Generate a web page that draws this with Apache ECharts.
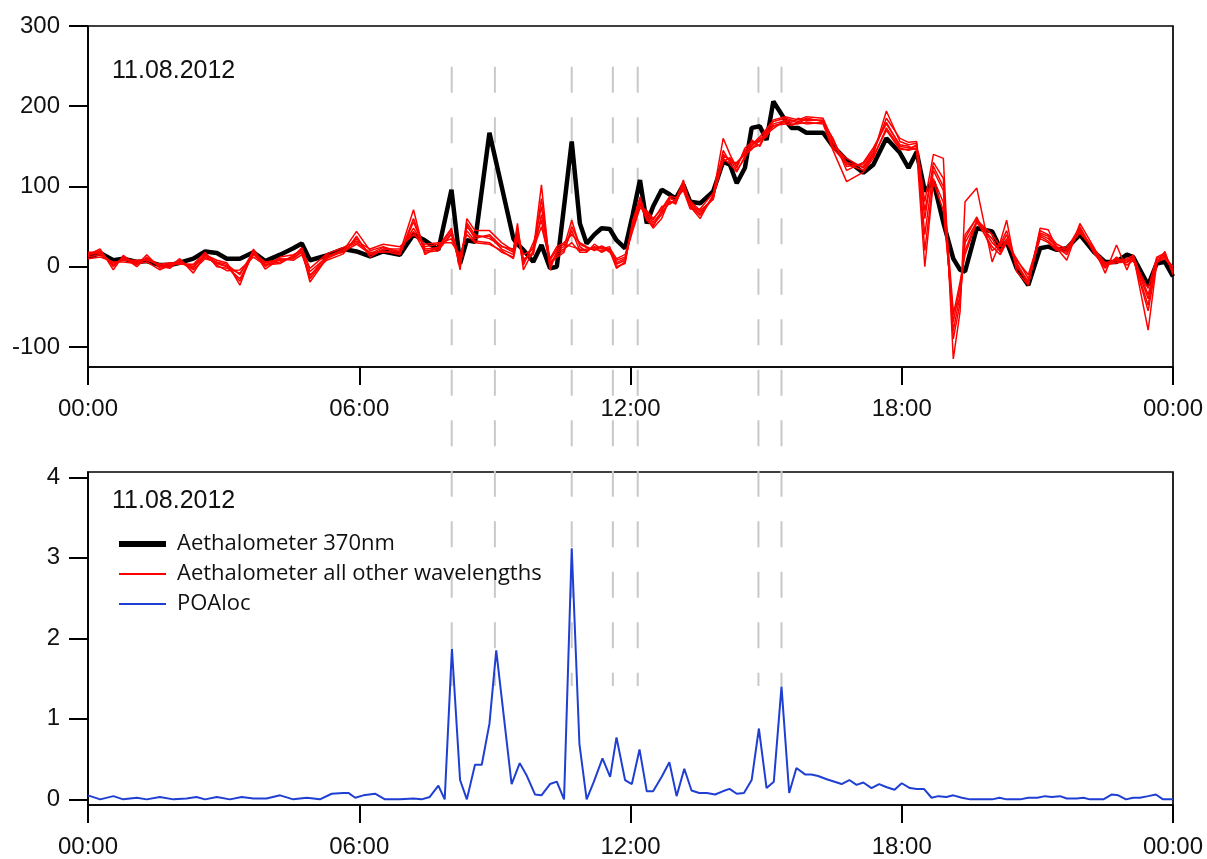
<!DOCTYPE html>
<html>
<head>
<meta charset="utf-8">
<title>Aethalometer and POAloc, 11.08.2012</title>
<script src="https://cdn.jsdelivr.net/npm/echarts@6/dist/echarts.min.js"></script>
<style>
  html, body { margin: 0; padding: 0; background: #fff; }
  #chart { width: 1207px; height: 859px; }
</style>
</head>
<body>
<div id="chart"></div>
<script>
// time of day in hours, shared by all aethalometer channels
var aethHours = [0.00,0.27,0.56,0.78,1.08,1.30,1.59,1.81,2.03,2.33,
  2.59,2.85,3.07,3.36,3.66,3.92,4.25,4.54,4.73,4.91,
  5.28,5.65,5.94,6.24,6.53,6.90,7.20,7.45,7.75,8.04,
  8.23,8.38,8.56,8.88,9.15,9.41,9.50,9.63,9.85,10.03,
  10.22,10.37,10.53,10.70,10.88,11.03,11.20,11.36,11.54,11.69,
  11.88,12.05,12.21,12.36,12.50,12.69,12.87,13.00,13.17,13.32,
  13.54,13.83,14.05,14.20,14.35,14.53,14.68,14.86,15.01,15.16,
  15.42,15.56,15.71,15.89,16.26,16.48,16.78,17.15,17.37,17.66,
  17.96,18.15,18.33,18.51,18.70,18.92,19.14,19.29,19.40,19.66,
  20.00,20.18,20.32,20.54,20.80,21.06,21.24,21.43,21.65,21.94,
  22.24,22.50,22.75,22.98,23.12,23.45,23.64,23.82,24.00];

// Aethalometer 370nm
var aeth370 = [12,17,8,10,6,7,2,2,5,10,
  19,17,10,10,18,7,15,23,29,8,
  14,22,19,13,19,15,40,33,21,96,
  4,33,31,167,100,35,28,21,6,27,
  -2,0,75,156,54,29,40,48,47,33,
  23,65,108,54,75,96,90,85,102,81,
  79,94,131,127,104,123,173,175,158,206,
  183,173,173,167,167,150,133,117,127,160,
  142,123,143,94,106,55,10,-4,-6,48,
  44,23,31,-2,-23,23,25,21,23,40,
  19,6,6,15,12,-23,4,6,-12];

// the other six wavelengths
var aeth470 = [15,22,-4,14,2,15,-2,0,10,-8,
  15,8,5,-23,22,0,12,15,20,-19,
  10,20,44,20,25,18,71,15,25,48,
  -4,60,45,45,30,20,54,-4,20,102,
  -4,20,25,58,25,19,25,23,20,-2,
  6,55,87,60,48,60,85,83,108,75,
  60,90,160,140,123,148,155,156,170,181,
  185,183,181,185,181,150,135,123,140,194,
  156,152,154,81,140,135,-115,-56,81,98,
  6,31,58,-6,-23,48,46,23,8,54,
  25,-8,27,-4,15,-79,4,19,-10];
var aeth520 = [18,18,2,10,5,10,0,3,6,0,
  12,4,0,-15,18,5,8,10,18,-12,
  14,18,35,15,20,15,56,20,22,40,
  5,50,38,38,22,15,45,5,25,75,
  5,15,20,45,20,22,22,20,22,5,
  10,50,80,65,55,68,80,80,100,80,
  68,85,140,132,128,142,150,160,165,178,
  182,180,185,182,183,158,125,128,145,180,
  150,148,150,60,130,110,-90,-45,40,60,
  30,20,35,5,-20,40,35,25,20,46,
  20,0,10,5,10,-48,10,15,-5];
var aeth590 = [12,15,5,8,8,8,3,5,3,3,
  18,0,-2,-8,15,3,6,12,24,-6,
  12,22,30,18,18,20,48,25,28,35,
  10,45,32,30,18,12,38,10,15,65,
  10,25,30,40,30,25,20,25,18,8,
  12,45,73,70,60,72,88,86,95,72,
  72,92,135,128,118,138,148,152,168,175,
  180,178,178,180,178,145,106,118,135,173,
  148,145,148,40,120,95,-80,-35,30,56,
  25,15,30,10,-15,35,30,20,25,42,
  22,5,8,8,12,-40,8,12,0];
var aeth660 = [14,20,0,12,0,12,1,-2,8,-4,
  10,6,3,-10,20,-3,10,8,15,-10,
  8,16,38,12,22,22,44,18,20,42,
  0,55,40,35,26,18,42,2,30,58,
  0,18,22,30,18,18,28,22,25,0,
  4,58,84,62,52,65,82,78,104,78,
  65,88,131,136,125,145,152,162,172,183,
  187,185,183,187,185,155,130,125,142,185,
  160,155,156,20,110,80,-69,-25,20,58,
  40,25,40,0,-18,45,40,28,22,50,
  18,-2,12,2,8,-27,12,17,-8];
var aeth880 = [10,12,6,6,4,6,-4,2,4,2,
  14,2,-5,-4,12,2,4,14,22,-2,
  16,24,32,22,28,25,40,28,30,30,
  15,40,30,28,20,10,35,15,22,50,
  8,22,28,25,22,20,24,18,23,10,
  15,48,76,68,58,75,78,84,98,82,
  70,84,145,130,130,140,146,158,162,176,
  178,176,180,178,180,160,120,130,148,178,
  152,150,145,0,106,70,-60,-19,15,55,
  35,18,32,8,-10,38,32,22,18,44,
  24,3,6,10,14,-35,6,10,-3];
var aeth950 = [16,16,3,10,6,9,2,4,5,-2,
  16,5,1,-18,17,6,9,11,19,-15,
  11,19,28,16,24,16,60,22,24,45,
  8,52,35,40,25,22,48,8,18,85,
  3,12,18,50,28,24,21,26,21,3,
  8,52,78,58,50,70,86,81,102,76,
  64,86,138,134,120,135,158,150,166,172,
  183,182,179,184,182,148,128,120,138,170,
  146,146,152,70,125,100,-56,-40,35,62,
  20,28,45,3,-22,42,38,24,15,48,
  21,2,5,6,11,-55,5,14,-6];

// POAloc
var poaHours = [0.00,0.27,0.56,0.78,1.08,1.30,1.59,1.89,2.18,2.40,
  2.59,2.85,3.14,3.40,3.66,3.95,4.25,4.54,4.84,5.13,
  5.39,5.65,5.76,5.91,6.09,6.35,6.57,6.90,7.20,7.38,
  7.56,7.75,7.89,8.05,8.23,8.38,8.56,8.71,8.88,9.03,
  9.37,9.55,9.70,9.89,10.03,10.22,10.37,10.53,10.70,10.87,
  11.03,11.19,11.38,11.55,11.69,11.88,12.03,12.20,12.36,12.50,
  12.69,12.86,13.02,13.19,13.35,13.52,13.69,13.87,14.04,14.19,
  14.35,14.51,14.68,14.84,15.01,15.17,15.34,15.51,15.67,15.86,
  16.00,16.15,16.34,16.67,16.84,17.00,17.15,17.33,17.50,17.67,
  17.84,18.00,18.18,18.33,18.49,18.66,18.81,18.99,19.14,19.33,
  19.51,19.81,20.00,20.16,20.32,20.62,20.80,21.00,21.17,21.32,
  21.50,21.65,21.87,22.02,22.16,22.46,22.64,22.79,22.96,23.12,
  23.27,23.45,23.62,23.78,24.00];
var poaValues = [0.05,0.00,0.04,0.00,0.02,0.00,0.03,0.00,0.01,0.03,
  0.00,0.03,0.00,0.03,0.01,0.01,0.05,0.00,0.02,0.00,
  0.07,0.08,0.08,0.02,0.05,0.07,0.00,0.00,0.01,0.00,
  0.03,0.17,0.00,1.87,0.24,0.00,0.43,0.43,0.94,1.85,
  0.19,0.45,0.30,0.06,0.05,0.19,0.22,0.00,3.12,0.69,
  0.00,0.22,0.51,0.28,0.77,0.24,0.19,0.62,0.10,0.10,
  0.28,0.46,0.04,0.38,0.11,0.08,0.08,0.06,0.10,0.13,
  0.07,0.08,0.24,0.88,0.14,0.22,1.40,0.08,0.39,0.31,
  0.31,0.29,0.25,0.19,0.24,0.18,0.21,0.14,0.19,0.15,
  0.12,0.20,0.14,0.13,0.13,0.02,0.04,0.03,0.05,0.02,
  0.00,0.00,0.00,0.02,0.00,0.00,0.02,0.02,0.04,0.03,
  0.04,0.01,0.01,0.02,0.00,0.00,0.06,0.05,0.00,0.02,
  0.02,0.04,0.06,0.00,0.00];

// marked events (grey dashed lines)
var eventHours = [8.045, 9.00, 10.70, 11.61, 12.16, 14.83, 15.34];

var xTicks = [0, 6, 12, 18, 24];
var dateLabel = '11.08.2012';

var NAME_370 = 'Aethalometer 370nm';
var NAME_OTHER = 'Aethalometer all other wavelengths';
var NAME_POA = 'POAloc';

function pairs(xs, ys) {
  return xs.map(function (x, i) { return [x, ys[i]]; });
}

function hhmm(v) {
  var h = v % 24;
  return (h < 10 ? '0' : '') + h + ':00';
}

var chart = echarts.init(document.getElementById('chart'));

var axisFont = { fontFamily: 'Liberation Sans', fontSize: 24, color: '#111' };
var blackLine = { color: '#000', width: 1.7 };

function timeAxis(grid, visible) {
  return {
    type: 'value', gridIndex: grid, min: xTicks[0], max: xTicks[xTicks.length - 1], interval: 6,
    show: visible,
    axisLine: { show: true, onZero: false, lineStyle: blackLine },
    axisTick: { show: true, length: 18, lineStyle: { color: '#000', width: 2 } },
    axisLabel: Object.assign({ margin: 30, formatter: hhmm }, axisFont),
    splitLine: { show: false }
  };
}

// data axes only draw the line; the tick/label axes sit on overlay grids
function lineOnlyY(grid, min, max) {
  return {
    type: 'value', gridIndex: grid, min: min, max: max,
    axisLine: { show: true, onZero: false, lineStyle: blackLine },
    axisTick: { show: false }, axisLabel: { show: false }, splitLine: { show: false }
  };
}
function tickY(grid, min, max, interval) {
  return {
    type: 'value', gridIndex: grid, min: min, max: max, interval: interval,
    axisLine: { show: false, onZero: false },
    axisTick: { show: true, length: 19, lineStyle: { color: '#000', width: 2 } },
    axisLabel: Object.assign({ margin: 28 }, axisFont),
    splitLine: { show: false }
  };
}

var redSets = [aeth470, aeth520, aeth590, aeth660, aeth880, aeth950];

var series = [];

eventHours.forEach(function (h) {
  series.push({
    type: 'line', xAxisIndex: 4, yAxisIndex: 4, silent: true, symbol: 'none', z: 1,
    data: [[h, 1], [h, 0]],
    lineStyle: { color: '#c8c8c8', width: 2, type: [26, 24.5] }
  });
});

series.push({
  name: NAME_370, type: 'line', xAxisIndex: 0, yAxisIndex: 0, symbol: 'none', z: 3,
  data: pairs(aethHours, aeth370),
  lineStyle: { color: '#000', width: 4.5 }, itemStyle: { color: '#000' }
});

redSets.forEach(function (vals) {
  series.push({
    name: NAME_OTHER, type: 'line', xAxisIndex: 0, yAxisIndex: 0, symbol: 'none', z: 4,
    data: pairs(aethHours, vals),
    lineStyle: { color: '#ff0000', width: 1.5 }, itemStyle: { color: '#ff0000' }
  });
});

series.push({
  name: NAME_POA, type: 'line', xAxisIndex: 2, yAxisIndex: 2, symbol: 'none', z: 3,
  data: pairs(poaHours, poaValues),
  lineStyle: { color: '#1f3fd3', width: 2 }, itemStyle: { color: '#1f3fd3' }
});

var option = {
  animation: false,
  backgroundColor: '#fff',
  grid: [
    { left: 88, top: 26, width: 1085, height: 341, show: true, borderColor: '#000', borderWidth: 1.7, outerBoundsMode: 'none' },
    { left: 88, top: 26, width: 1085, height: 320.9, outerBoundsMode: 'none' },
    { left: 88, top: 472, width: 1085, height: 333, show: true, borderColor: '#000', borderWidth: 1.7, outerBoundsMode: 'none' },
    { left: 88, top: 477.3, width: 1085, height: 322, outerBoundsMode: 'none' },
    { left: 88, top: 66.7, width: 1085, height: 619.3, outerBoundsMode: 'none' }
  ],
  xAxis: [
    timeAxis(0, true),
    timeAxis(1, false),
    timeAxis(2, true),
    timeAxis(3, false),
    timeAxis(4, false)
  ],
  yAxis: [
    lineOnlyY(0, -125, 300),
    tickY(1, -100, 300, 100),
    lineOnlyY(2, -0.07, 4.066),
    tickY(3, 0, 4, 1),
    { type: 'value', gridIndex: 4, min: 0, max: 1, show: false }
  ],
  legend: {
    orient: 'vertical', left: 111, top: 528,
    itemWidth: 47, itemHeight: 14, itemGap: 8,
    selectedMode: false,
    data: [
      { name: NAME_370, lineStyle: { width: 6 }, itemStyle: { opacity: 0 } },
      { name: NAME_OTHER, lineStyle: { width: 2 }, itemStyle: { opacity: 0 } },
      { name: NAME_POA, lineStyle: { width: 2 }, itemStyle: { opacity: 0 } }
    ],
    textStyle: { fontFamily: 'Open Sans', fontSize: 22, color: '#111', padding: [0, 0, 0, 6] }
  },
  graphic: [
    { type: 'text', left: 112, top: 59, style: { text: dateLabel, font: '25px "Liberation Sans"', fill: '#111' } },
    { type: 'text', left: 112, top: 489, style: { text: dateLabel, font: '25px "Liberation Sans"', fill: '#111' } }
  ],
  series: series
};

chart.setOption(option);
</script>
</body>
</html>
